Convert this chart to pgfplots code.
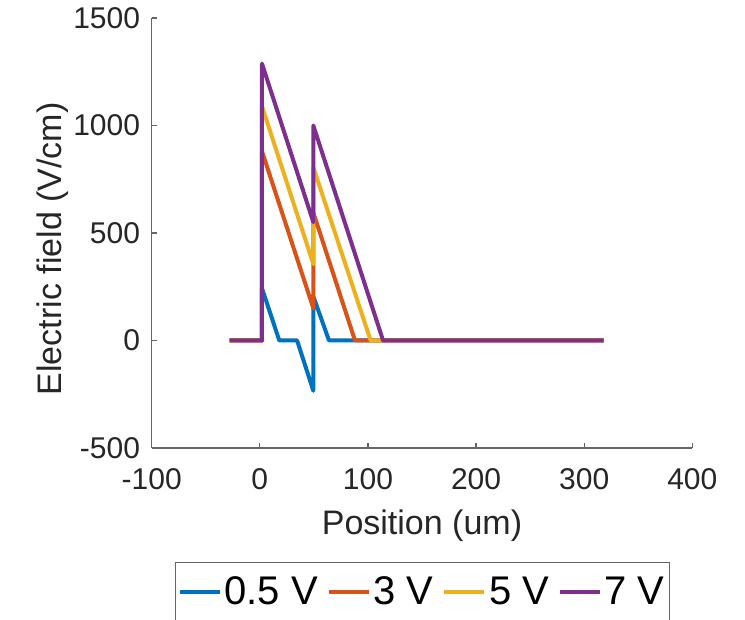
\documentclass[border=0pt]{standalone}
\usepackage{fontspec}
\setmainfont{Liberation Sans}
\usepackage{pgfplots}
\pgfplotsset{compat=1.18}

\definecolor{mblue}{RGB}{0,114,189}
\definecolor{mred}{RGB}{217,83,25}
\definecolor{myellow}{RGB}{237,177,32}
\definecolor{mpurple}{RGB}{126,47,142}
\definecolor{mtext}{RGB}{38,38,38}

\begin{document}
\begin{tikzpicture}
% page = 745x620 px at 0.5pt per px, axis box at origin
\path[use as bounding box, clip] (-75.85pt,-86pt) rectangle (296.65pt,224pt);
\begin{axis}[
  scale only axis,
  width=270.3pt, height=215pt,
  xmin=-100, xmax=400,
  ymin=-500, ymax=1500,
  xtick={-100,0,100,200,300,400},
  ytick={-500,0,500,1000,1500},
  axis x line*=bottom,
  axis y line*=left,
  axis line style={draw=black!60, line width=0.6pt},
  tick style={draw=black!60, line width=0.6pt},
  tick align=inside,
  major tick length=2.5pt,
  /pgf/number format/assume math mode=true,
  /pgf/number format/set thousands separator={},
  tick label style={font=\fontsize{15}{18}\selectfont, text=mtext},
  xticklabel shift=6.8pt,
  yticklabel shift=2.3pt,
  xlabel={Position (um)},
  ylabel={Electric field (V/cm)},
  label style={font=\fontsize{17}{20}\selectfont, text=mtext},
  xlabel style={at={(axis description cs:0.5,-0.2023)}, anchor=base},
  ylabel style={at={(axis description cs:-0.1665,0.463)}, anchor=base},
  legend columns=-1,
  legend image code/.code={\draw[#1] (0pt,0pt) -- (20pt,0pt);},
  legend style={
    at={(axis description cs:0.0431,-0.265)}, anchor=north west,
    draw=black!60, line width=0.6pt,
    font=\fontsize{20}{24}\selectfont,
    inner xsep=1pt, inner ysep=4pt,
    nodes={inner xsep=1.4pt, inner ysep=3pt},
    /tikz/every even column/.append style={column sep=3pt},
  },
  every axis plot/.append style={line width=2pt, line join=round},
]
\addplot[mblue] coordinates {
  (-28,0) (2,0) (2,243) (18,0) (34.5,0) (49.5,-234) (49.5,205) (64,0) (318,0)
};
\addlegendentry{0.5 V}
\addplot[mred] coordinates {
  (-28,0) (2,0) (2,880) (49.5,150) (49.5,595) (88,0) (318,0)
};
\addlegendentry{3 V}
\addplot[myellow] coordinates {
  (-28,0) (2,0) (2,1090) (49.5,355) (49.5,805) (102.5,0) (318,0)
};
\addlegendentry{5 V}
\addplot[mpurple] coordinates {
  (-28,0) (2,0) (2,1288) (49.5,550) (49.5,1000) (114,0) (318,0)
};
\addlegendentry{7 V}
\end{axis}
\end{tikzpicture}
\end{document}
